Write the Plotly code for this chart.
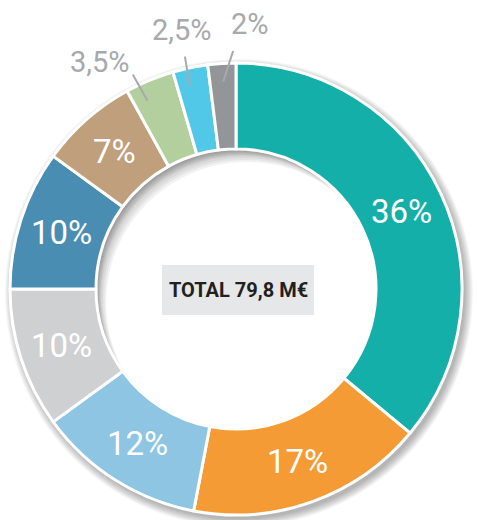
import math
import plotly.graph_objects as go

# Budget split (percent of total), drawn clockwise from 12 o'clock
shares = [36, 17, 12, 10, 10, 7, 3.5, 2.5, 2]
colors = ["#14AFA9", "#F59B35", "#8DC5E3", "#CFD0D2", "#4A8DB2",
          "#C0A07C", "#B3CF9E", "#52C8E8", "#939598"]
total_label = "TOTAL 79,8 M€"

# Text shown for each slice (French decimal comma)
slice_text = [(f"{v:g}%").replace(".", ",") for v in shares]

W, H = 477, 520
CX, CY = 236, 289          # ring centre in pixels (y down)
R_OUT, R_IN = 226, 140     # ring radii in pixels
SMALL = 5                  # slices below this share get an outside label

FONT = "Roboto, DejaVu Sans Condensed, sans-serif"


def px(x):
    return x / W


def py(y):
    return 1 - y / H


def polar(r, deg):
    a = math.radians(deg)
    return CX + r * math.sin(a), CY - r * math.cos(a)


def circle_path(cx, cy, r, n=144):
    pts = []
    for i in range(n):
        a = 2 * math.pi * i / n
        pts.append(f"{px(cx + r * math.cos(a)):.5f},{py(cy + r * math.sin(a)):.5f}")
    return "M" + " L".join(pts) + " Z"


fig = go.Figure()

fig.add_trace(go.Pie(
    values=shares,
    marker=dict(colors=colors, line=dict(color="white", width=3)),
    hole=R_IN / R_OUT,
    sort=False,
    direction="clockwise",
    rotation=0,
    textinfo="none",
    hoverinfo="skip",
    showlegend=False,
    domain=dict(x=[px(CX - R_OUT), px(CX + R_OUT)],
                y=[py(CY + R_OUT), py(CY - R_OUT)]),
))

shapes = []

# soft drop shadow around the outer edge of the ring (hole left clear)
hole_clear = circle_path(CX, CY, R_IN + 6)
for k in range(9):
    r = R_OUT + 8 - k
    ring = circle_path(CX + 3, CY + 4, r) + " " + hole_clear
    shapes.append(dict(type="path", xref="paper", yref="paper", layer="below",
                       path=ring, fillrule="evenodd",
                       line=dict(width=0), fillcolor="rgba(0,0,0,0.035)"))

# shadow cast by the ring into the hole (upper-left inner edge)
for d in [1, 2, 3, 4, 5, 6, 7, 8, 10, 12, 14]:
    path = circle_path(CX, CY, R_IN + 3) + " " + circle_path(CX + d * 0.8, CY + d, R_IN + 1)
    shapes.append(dict(type="path", xref="paper", yref="paper", layer="below",
                       path=path, fillrule="evenodd",
                       line=dict(width=0), fillcolor="rgba(0,0,0,0.05)"))

# grey box behind the total
shapes.append(dict(type="rect", xref="paper", yref="paper", layer="below",
                   x0=px(162), x1=px(314), y0=py(315), y1=py(265),
                   line=dict(width=0), fillcolor="#E6E7E8"))

annotations = []

# slice labels
out_start_off = [-2.7, -1.1, 0.1]
out_end_off = [-3.2, -0.7, 2.9]
out_label_off = [-8.5, 0.0, 6.6]
cum = 0.0
j = 0
for v, txt in zip(shares, slice_text):
    mid = 360 * (cum + v / 2) / 100
    cum += v
    if v >= SMALL:
        x, y = polar((R_OUT + R_IN) / 2, mid)
        annotations.append(dict(x=px(x), y=py(y), xref="paper", yref="paper",
                                text=txt, showarrow=False,
                                xanchor="center", yanchor="middle",
                                font=dict(family=FONT, size=33, weight=400,
                                          color="white")))
    else:
        x0, y0 = polar(208, mid + out_start_off[j])
        x1, y1 = polar(238, mid + out_end_off[j])
        shapes.append(dict(type="line", xref="paper", yref="paper", layer="above",
                           x0=px(x0), y0=py(y0), x1=px(x1), y1=py(y1),
                           line=dict(color="#A7A9AC", width=2)))
        lx, ly = polar(265, mid + out_label_off[j])
        annotations.append(dict(x=px(lx), y=py(ly), xref="paper", yref="paper",
                                text=txt, showarrow=False,
                                xanchor="center", yanchor="middle",
                                font=dict(family=FONT, size=29, weight=400,
                                          color="#A7A9AC")))
        j += 1

# centre total
annotations.append(dict(x=px(238), y=py(290), xref="paper", yref="paper",
                        text=f"<b>{total_label}</b>", showarrow=False,
                        xanchor="center", yanchor="middle",
                        font=dict(family=FONT, size=20, color="#231F20")))

fig.update_layout(
    width=W, height=H,
    margin=dict(l=0, r=0, t=0, b=0),
    paper_bgcolor="white",
    plot_bgcolor="white",
    shapes=shapes,
    annotations=annotations,
)

fig.write_html("out.html")
